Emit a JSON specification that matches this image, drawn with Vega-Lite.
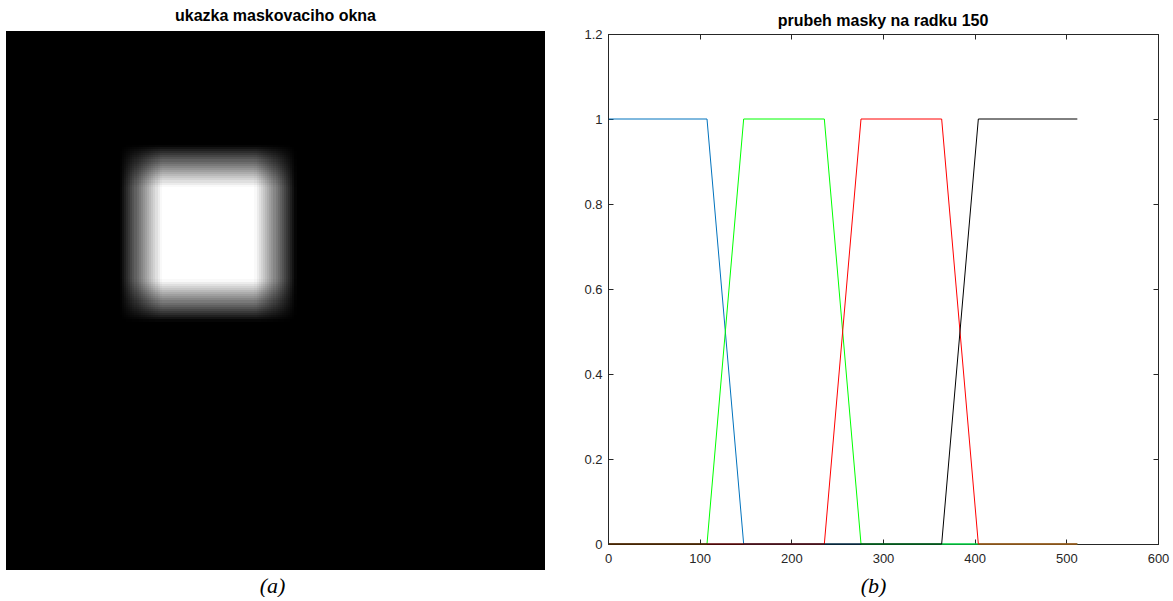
{
  "$schema": "https://vega.github.io/schema/vega-lite/v6.json",
  "background": "white",
  "padding": {"left": 6, "top": 8, "right": 0, "bottom": 0},
  "spacing": 38,
  "config": {
    "font": "Liberation Sans",
    "title": {"font": "Liberation Sans", "fontSize": 16, "fontWeight": "bold", "color": "black", "anchor": "middle", "frame": "group"}
  },
  "datasets": {
    "prof": [
      {"p0": 108, "p1": 110, "v": 0.025},
      {"p0": 110, "p1": 112, "v": 0.075},
      {"p0": 112, "p1": 114, "v": 0.125},
      {"p0": 114, "p1": 116, "v": 0.175},
      {"p0": 116, "p1": 118, "v": 0.225},
      {"p0": 118, "p1": 120, "v": 0.275},
      {"p0": 120, "p1": 122, "v": 0.325},
      {"p0": 122, "p1": 124, "v": 0.375},
      {"p0": 124, "p1": 126, "v": 0.425},
      {"p0": 126, "p1": 128, "v": 0.475},
      {"p0": 128, "p1": 130, "v": 0.525},
      {"p0": 130, "p1": 132, "v": 0.575},
      {"p0": 132, "p1": 134, "v": 0.625},
      {"p0": 134, "p1": 136, "v": 0.675},
      {"p0": 136, "p1": 138, "v": 0.725},
      {"p0": 138, "p1": 140, "v": 0.775},
      {"p0": 140, "p1": 142, "v": 0.825},
      {"p0": 142, "p1": 144, "v": 0.875},
      {"p0": 144, "p1": 146, "v": 0.925},
      {"p0": 146, "p1": 148, "v": 0.975},
      {"p0": 148, "p1": 236, "v": 1},
      {"p0": 236, "p1": 238, "v": 0.975},
      {"p0": 238, "p1": 240, "v": 0.925},
      {"p0": 240, "p1": 242, "v": 0.875},
      {"p0": 242, "p1": 244, "v": 0.825},
      {"p0": 244, "p1": 246, "v": 0.775},
      {"p0": 246, "p1": 248, "v": 0.725},
      {"p0": 248, "p1": 250, "v": 0.675},
      {"p0": 250, "p1": 252, "v": 0.625},
      {"p0": 252, "p1": 254, "v": 0.575},
      {"p0": 254, "p1": 256, "v": 0.525},
      {"p0": 256, "p1": 258, "v": 0.475},
      {"p0": 258, "p1": 260, "v": 0.425},
      {"p0": 260, "p1": 262, "v": 0.375},
      {"p0": 262, "p1": 264, "v": 0.325},
      {"p0": 264, "p1": 266, "v": 0.275},
      {"p0": 266, "p1": 268, "v": 0.225},
      {"p0": 268, "p1": 270, "v": 0.175},
      {"p0": 270, "p1": 272, "v": 0.125},
      {"p0": 272, "p1": 274, "v": 0.075},
      {"p0": 274, "p1": 276, "v": 0.025}
    ],
    "lines": [
      {"s": "a", "x": 1, "y": 1},
      {"s": "a", "x": 108, "y": 1},
      {"s": "a", "x": 148, "y": 0},
      {"s": "a", "x": 512, "y": 0},
      {"s": "b", "x": 1, "y": 0},
      {"s": "b", "x": 108, "y": 0},
      {"s": "b", "x": 148, "y": 1},
      {"s": "b", "x": 236, "y": 1},
      {"s": "b", "x": 276, "y": 0},
      {"s": "b", "x": 512, "y": 0},
      {"s": "c", "x": 1, "y": 0},
      {"s": "c", "x": 236, "y": 0},
      {"s": "c", "x": 276, "y": 1},
      {"s": "c", "x": 364, "y": 1},
      {"s": "c", "x": 404, "y": 0},
      {"s": "c", "x": 512, "y": 0},
      {"s": "d", "x": 1, "y": 0},
      {"s": "d", "x": 364, "y": 0},
      {"s": "d", "x": 404, "y": 1},
      {"s": "d", "x": 512, "y": 1}
    ]
  },
  "hconcat": [
    {
      "width": 539,
      "height": 539,
      "title": {"text": "ukazka maskovaciho okna", "offset": 7},
      "view": {"fill": null, "stroke": null},
      "layer": [
        {
          "data": {"values": [{"img": "pozadi"}]},
          "mark": {"type": "rect", "strokeWidth": 0},
          "encoding": {
            "x": {"datum": 0, "type": "quantitative",
              "scale": {"domain": [0, 512], "nice": false, "zero": false, "round": true},
              "axis": {"title": "(a)", "labels": false, "ticks": false, "domain": false, "grid": false,
                "titleFont": "Liberation Serif", "titleFontSize": 22, "titleFontStyle": "italic", "titleFontWeight": "normal",
                "titleColor": "black", "titleX": 266, "titleY": 19, "titleBaseline": "alphabetic", "titleAlign": "center"}},
            "x2": {"datum": 512},
            "y": {"datum": 0, "type": "quantitative",
              "scale": {"domain": [2.85, 514.85], "nice": false, "zero": false, "reverse": true, "round": true}, "axis": null},
            "y2": {"datum": 512},
            "color": {"value": "black"}
          }
        },
        {
          "data": {"name": "prof"},
          "mark": {"type": "rect", "strokeWidth": 0},
          "encoding": {
            "x": {"field": "p0", "type": "quantitative"},
            "x2": {"field": "p1"},
            "y": {"datum": 108, "type": "quantitative"},
            "y2": {"datum": 276},
            "color": {"field": "v", "type": "quantitative",
              "scale": {"domain": [0, 1], "range": ["#000000", "#ffffff"], "interpolate": "rgb"}, "legend": null}
          }
        },
        {
          "data": {"name": "prof"},
          "mark": {"type": "rect", "strokeWidth": 0, "color": "black"},
          "encoding": {
            "x": {"datum": 108, "type": "quantitative"},
            "x2": {"datum": 276},
            "y": {"field": "p0", "type": "quantitative"},
            "y2": {"field": "p1"},
            "opacity": {"field": "v", "type": "quantitative", "scale": {"domain": [0, 1], "range": [1, 0]}, "legend": null}
          }
        }
      ]
    },
    {
      "width": 550,
      "height": 510,
      "title": {"text": "prubeh masky na radku 150", "offset": -1},
      "view": {"stroke": "#262626", "strokeWidth": 1, "fill": "white"},
      "data": {"name": "lines"},
      "layer": [
        {
          "mark": {"type": "line", "strokeWidth": 1},
          "encoding": {
            "x": {"field": "x", "type": "quantitative",
              "scale": {"domain": [0, 600], "nice": false, "zero": false},
              "axis": {"orient": "bottom", "values": [0, 100, 200, 300, 400, 500, 600], "grid": false,
                "tickSize": -5, "labelPadding": 13, "labelFlush": false, "labelOverlap": false,
                "domainColor": "#262626", "tickColor": "#262626", "labelColor": "#262626",
                "labelFont": "Liberation Sans", "labelFontSize": 13,
                "title": "(b)", "titleFont": "Liberation Serif", "titleFontSize": 22, "titleFontStyle": "italic", "titleFontWeight": "normal",
                "titleColor": "black", "titleX": 265, "titleY": 48, "titleBaseline": "alphabetic", "titleAlign": "center"}},
            "y": {"field": "y", "type": "quantitative",
              "scale": {"domain": [0, 1.2], "nice": false, "zero": false},
              "axis": {"orient": "left", "values": [0, 0.2, 0.4, 0.6, 0.8, 1, 1.2], "format": "~g", "grid": false,
                "tickSize": -5, "labelPadding": 11, "labelFlush": false, "labelOverlap": false,
                "domainColor": "#262626", "tickColor": "#262626", "labelColor": "#262626",
                "labelFont": "Liberation Sans", "labelFontSize": 13, "title": null}},
            "color": {"field": "s", "type": "nominal",
              "scale": {"domain": ["a", "b", "c", "d"], "range": ["#0072BD", "#00FF00", "#FF0000", "#000000"]}, "legend": null}
          }
        },
        {
          "mark": {"type": "point", "opacity": 0},
          "encoding": {
            "x": {"field": "x", "type": "quantitative",
              "axis": {"orient": "top", "values": [0, 100, 200, 300, 400, 500, 600], "labels": false, "grid": false,
                "tickSize": -5, "domainColor": "#262626", "tickColor": "#262626", "title": null}},
            "y": {"field": "y", "type": "quantitative",
              "axis": {"orient": "right", "values": [0, 0.2, 0.4, 0.6, 0.8, 1, 1.2], "labels": false, "grid": false,
                "tickSize": -5, "domainColor": "#262626", "tickColor": "#262626", "title": null}}
          }
        }
      ],
      "resolve": {"axis": {"x": "independent", "y": "independent"}}
    }
  ]
}
